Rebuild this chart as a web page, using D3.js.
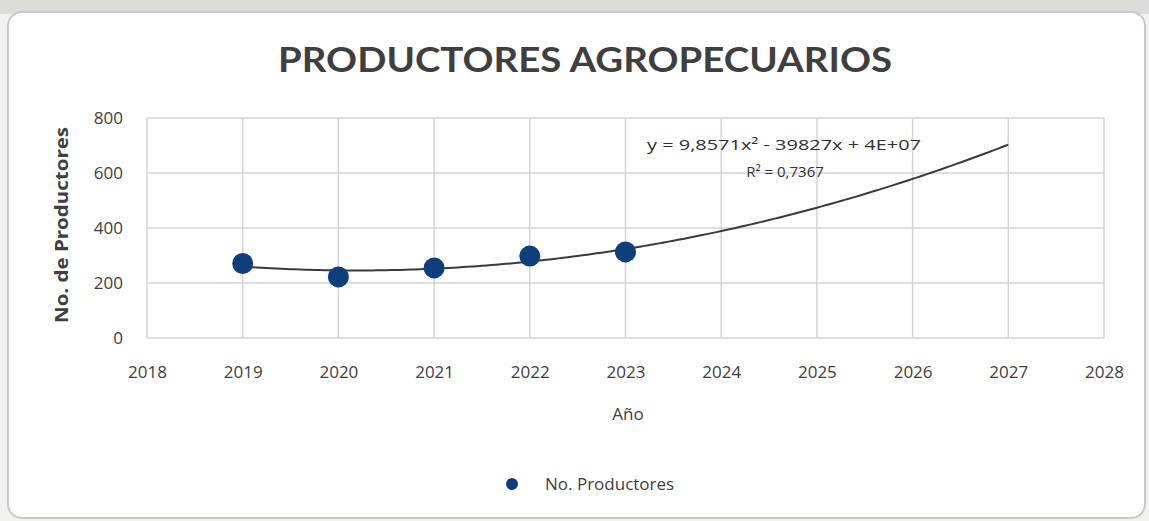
<!DOCTYPE html>
<html><head><meta charset="utf-8">
<script src="https://cdn.jsdelivr.net/npm/d3@7"></script>
<style>
html,body{margin:0;padding:0;background:#f2f2f0;}
svg{display:block;}
</style></head>
<body>
<svg id="chart" width="1149" height="521"></svg>
<script>
const years = [2019, 2020, 2021, 2022, 2023];
const productores = [271, 222, 255, 298, 313];
const xTicks = [2018, 2019, 2020, 2021, 2022, 2023, 2024, 2025, 2026, 2027, 2028];
const yTicks = [0, 200, 400, 600, 800];
const titleText = "PRODUCTORES AGROPECUARIOS";
const equationText = "y = 9,8571x² - 39827x + 4E+07";
const r2Text = "R² = 0,7367";
const trendEnd = 2027;

const svg = d3.select("#chart");
const W = 1149, H = 521;
const m = {left:147, right:45, top:118, bottom:183};

// outer frame
svg.append("rect").attr("x",0).attr("y",0).attr("width",W).attr("height",14).attr("fill","#dcdcd8");
svg.append("rect").attr("x",8).attr("y",12).attr("width",1137).attr("height",506)
  .attr("rx",14).attr("fill","#ffffff").attr("stroke","#c8c8c8").attr("stroke-width",2);

const x = d3.scaleLinear().domain([2018, 2028]).range([m.left, W - m.right]);
const y = d3.scaleLinear().domain([0, 800]).range([H - m.bottom, m.top]);

// gridlines
const g = svg.append("g");
g.selectAll("line.h").data(yTicks).join("line")
  .attr("x1", x(2018)).attr("x2", x(2028)).attr("y1", d=>y(d)).attr("y2", d=>y(d))
  .attr("stroke", "#d4d4d4").attr("stroke-width", 1.5);
g.selectAll("line.v").data(xTicks).join("line")
  .attr("y1", y(0)).attr("y2", y(800)).attr("x1", d=>x(d)).attr("x2", d=>x(d))
  .attr("stroke", "#d4d4d4").attr("stroke-width", 1.5);

// axes
const fontAx = "'Open Sans', 'Noto Sans', sans-serif";
const xAxis = svg.append("g").attr("transform", `translate(0,${y(0)})`)
  .call(d3.axisBottom(x).tickValues(xTicks).tickFormat(d3.format("d")).tickSize(0).tickPadding(28));
const yAxis = svg.append("g").attr("transform", `translate(${x(2018)},0)`)
  .call(d3.axisLeft(y).tickValues(yTicks).tickSize(0).tickPadding(24));
[xAxis, yAxis].forEach(a => {
  a.select(".domain").remove();
  a.selectAll("text").attr("font-family", fontAx).attr("font-size", 17).attr("fill", "#404040");
});

// trendline: least-squares quadratic fit of the data
const x0 = d3.mean(years);
const X = years.map(v => v - x0);
function solve3(A, b){
  const M = A.map((r,i)=>[...r, b[i]]);
  for(let i=0;i<3;i++){
    let p=i; for(let k=i+1;k<3;k++) if(Math.abs(M[k][i])>Math.abs(M[p][i])) p=k;
    [M[i],M[p]]=[M[p],M[i]];
    for(let k=0;k<3;k++){ if(k===i) continue; const f=M[k][i]/M[i][i]; for(let j=i;j<4;j++) M[k][j]-=f*M[i][j]; }
  }
  return M.map((r,i)=>r[3]/r[i]);
}
const S = p => d3.sum(X, v => Math.pow(v, p));
const Sy = p => d3.sum(X, (v,i) => Math.pow(v, p) * productores[i]);
const coef = solve3([[S(4),S(3),S(2)],[S(3),S(2),S(1)],[S(2),S(1),S(0)]], [Sy(2),Sy(1),Sy(0)]);
const fit = t => coef[0]*(t-x0)*(t-x0) + coef[1]*(t-x0) + coef[2];
const trendPts = d3.range(years[0], trendEnd + 0.001, 0.05).map(t => [t, fit(t)]);
svg.append("path").datum(trendPts)
  .attr("d", d3.line().x(d=>x(d[0])).y(d=>y(d[1])).curve(d3.curveLinear))
  .attr("fill","none").attr("stroke","#3a3a3a").attr("stroke-width",2);

// points
svg.selectAll("circle.pt").data(years).join("circle")
  .attr("cx", d=>x(d)).attr("cy", (d,i)=>y(productores[i])).attr("r", 10.5)
  .attr("fill", "#0e3f7c");

// title
svg.append("text").attr("x", 585).attr("y", 72).attr("text-anchor","middle")
  .attr("font-family","Lato, 'Open Sans', sans-serif").attr("font-weight","bold")
  .attr("font-size", 35).attr("fill","#3f3f3f").attr("textLength", 614)
  .attr("lengthAdjust","spacingAndGlyphs").text(titleText);

// equation
svg.append("text").attr("x", 784).attr("y", 150).attr("text-anchor","middle")
  .attr("font-family", fontAx).attr("font-size", 15).attr("fill","#303030")
  .attr("textLength", 274).attr("lengthAdjust","spacingAndGlyphs").text(equationText);
svg.append("text").attr("x", 785).attr("y", 177).attr("text-anchor","middle")
  .attr("font-family", fontAx).attr("font-size", 15).attr("fill","#303030").text(r2Text);

// axis titles
svg.append("text").attr("x", 628).attr("y", 420).attr("text-anchor","middle")
  .attr("font-family", fontAx).attr("font-size", 17).attr("fill","#404040").text("Año");
svg.append("text").attr("transform", `translate(68,225) rotate(-90)`).attr("text-anchor","middle")
  .attr("font-family", fontAx).attr("font-weight","bold").attr("font-size", 17).attr("fill","#404040")
  .attr("textLength", 196).attr("lengthAdjust","spacingAndGlyphs")
  .text("No. de Productores");

// legend
svg.append("circle").attr("cx", 512).attr("cy", 484).attr("r", 6).attr("fill","#0e3f7c");
svg.append("text").attr("x", 545).attr("y", 490)
  .attr("font-family", fontAx).attr("font-size", 17).attr("fill","#404040").text("No. Productores");
</script>
</body></html>
